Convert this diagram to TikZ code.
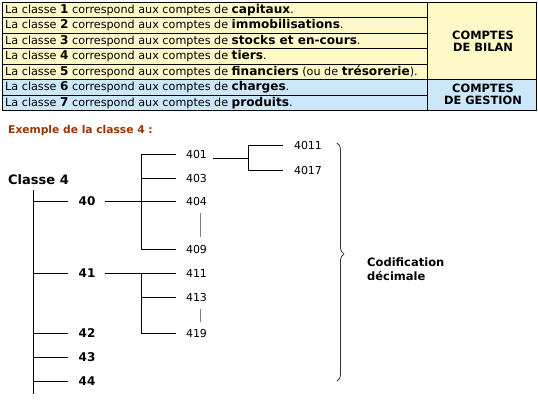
\documentclass[tikz,border=0pt]{standalone}
\usepackage{fontspec}
\setmainfont{DejaVu Sans}
\usetikzlibrary{decorations.pathreplacing}
\definecolor{tyellow}{HTML}{FFF9C8}
\definecolor{tblue}{HTML}{CCE6FA}
\definecolor{brown}{HTML}{993300}
\newcommand{\bb}[1]{{\fontsize{12.1}{13}\selectfont\bfseries #1}}
\tikzset{
  rowtxt/.style={anchor=west, inner sep=0pt, font=\fontsize{11.2}{13}\selectfont},
  headtxt/.style={align=center, inner sep=0pt, font=\fontsize{11.4}{12.5}\selectfont\bfseries},
  lvltwo/.style={inner sep=0pt, font=\fontsize{12}{14}\selectfont\bfseries},
  lvlthree/.style={inner sep=0pt, font=\fontsize{11}{12}\selectfont},
  tline/.style={line width=1pt, black},
  gline/.style={line width=1pt, gray},
}
\begin{document}
\begin{tikzpicture}[x=1pt,y=-1pt]
\useasboundingbox (0,0) rectangle (538,400);
% table
\fill[tyellow] (2,2) rectangle (536,79.5);
\fill[tblue] (2,79.5) rectangle (536,110.5);
\foreach \y in {17.5,33,48.5,64,95} \draw[tline] (2,\y) -- (427,\y);
\draw[tline] (2,79.5) -- (536,79.5);
\draw[tline] (427,2) -- (427,110.5);
\draw[tline] (2,2) rectangle (536,110.5);
\node[rowtxt] (r1) at (5,9.75) {La classe \bb{1} correspond aux comptes de \bb{capitaux}.};
\node[rowtxt] (r2) at (5,25.25) {La classe \bb{2} correspond aux comptes de \bb{immobilisations}.};
\node[rowtxt] (r3) at (5,40.75) {La classe \bb{3} correspond aux comptes de \bb{stocks et en-cours}.};
\node[rowtxt] (r4) at (5,56.25) {La classe \bb{4} correspond aux comptes de \bb{tiers}.};
\node[rowtxt] (r5) at (5,71.75) {La classe \bb{5} correspond aux comptes de \bb{financiers} (ou de \bb{trésorerie}).};
\node[rowtxt] (r6) at (5,87.25) {La classe \bb{6} correspond aux comptes de \bb{charges}.};
\node[rowtxt] (r7) at (5,102.75) {La classe \bb{7} correspond aux comptes de \bb{produits}.};
\node[headtxt] (bilan) at (483,41.5) {COMPTES\\DE BILAN};
\node[headtxt] (gestion) at (483,94.5) {COMPTES\\DE GESTION};
% title
\node[anchor=west, inner sep=0pt, text=brown, font=\fontsize{10.7}{12}\selectfont\bfseries] (ex) at (8,131) {Exemple de la classe 4 :};
% tree
\node[anchor=west, inner sep=0pt, font=\fontsize{13}{15}\selectfont\bfseries] (c4) at (8,180) {Classe 4};
\coordinate (a0) at (33,190);
\coordinate (a1) at (33,394);
\draw[tline] (a0) -- (a1);
\foreach \k/\y in {40/201,41/273,42/333,43/357,44/381}{
  \coordinate (b\k) at (33,\y);
  \coordinate (e\k) at (68,\y);
  \draw[tline] (b\k) -- (e\k);
  \node[lvltwo] (n\k) at (87,\y) {\k};
}
% 40 subtree
\coordinate (o40) at (105,201);
\coordinate (t40) at (176,201);
\coordinate (v40a) at (141,154);
\coordinate (v40b) at (141,249);
\draw[tline] (o40) -- (t40);
\draw[tline] (v40a) -- (v40b);
\foreach \k/\y in {401/154,403/178,404/201,409/249}{
  \coordinate (s\k) at (141,\y);
  \coordinate (f\k) at (176,\y);
  \draw[tline] (s\k) -- (f\k);
  \node[lvlthree] (n\k) at (196.5,\y) {\k};
}
\coordinate (g40a) at (200,213);
\coordinate (g40b) at (200,237);
\draw[gline] (g40a) -- (g40b);
% 401 subtree
\coordinate (o401) at (213,158);
\coordinate (t401) at (248,158);
\coordinate (v401a) at (248,145);
\coordinate (v401b) at (248,170);
\draw[tline] (o401) -- (t401);
\draw[tline] (v401a) -- (v401b);
\foreach \k/\y in {4011/145,4017/170}{
  \coordinate (s\k) at (248,\y);
  \coordinate (f\k) at (283,\y);
  \draw[tline] (s\k) -- (f\k);
  \node[lvlthree] (n\k) at (308,\y) {\k};
}
% 41 subtree
\coordinate (o41) at (105,273);
\coordinate (t41) at (176,273);
\coordinate (v41a) at (141,273);
\coordinate (v41b) at (141,333);
\draw[tline] (o41) -- (t41);
\draw[tline] (v41a) -- (v41b);
\foreach \k/\y in {411/273,413/297,419/333}{
  \coordinate (s\k) at (141,\y);
  \coordinate (f\k) at (176,\y);
  \draw[tline] (s\k) -- (f\k);
  \node[lvlthree] (n\k) at (196.5,\y) {\k};
}
\coordinate (g41a) at (200,309);
\coordinate (g41b) at (200,322);
\draw[gline] (g41a) -- (g41b);
% brace
\coordinate (br1) at (337,143);
\coordinate (br2) at (337,381);
\draw[line width=0.8pt, black!80, decorate, decoration={brace, amplitude=7pt, aspect=0.466}] (br1) -- (br2);
\node[anchor=west, align=left, inner sep=0pt, font=\fontsize{11.5}{14.5}\selectfont\bfseries] (cod) at (367,269) {Codification\\décimale};
\end{tikzpicture}
\end{document}
